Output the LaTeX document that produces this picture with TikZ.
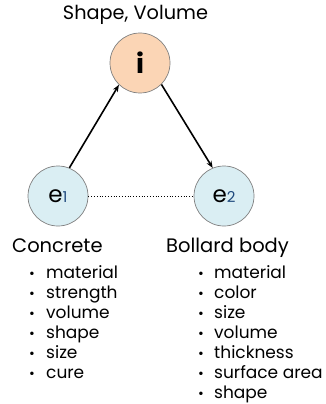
\documentclass[tikz,border=0pt]{standalone}
\usepackage{fontspec}
\setmainfont{Poppins}
\usetikzlibrary{arrows.meta}
\definecolor{peach}{HTML}{FBD5B5}
\definecolor{paleblue}{HTML}{DAEEF3}
\definecolor{rimgray}{HTML}{7F7F7F}
\definecolor{subblue}{HTML}{1F497D}
\tikzset{
  x=1pt, y=-1pt,
  entity/.style={circle, draw=rimgray, line width=0.7pt, minimum size=60pt, inner sep=0pt},
  link/.style={line width=1.6pt, -{Stealth[length=7pt,width=5.5pt]}},
  heading/.style={anchor=base west, inner sep=0pt, font=\fontsize{19.5}{22}\selectfont},
  item/.style={anchor=base west, inner sep=0pt, font=\fontsize{17}{20}\selectfont},
  dot/.style={anchor=base, inner sep=0pt, font=\fontsize{14}{20}\selectfont}
}
\newcommand{\entsub}[1]{{\fontsize{15}{15}\selectfont\color{subblue}#1}}
\begin{document}
\begin{tikzpicture}
\useasboundingbox (0,0) rectangle (325,404);

% the three entities
\node[entity, fill=peach, font=\fontsize{27}{27}\selectfont\bfseries] (i) at (140,63) {i};
\node[entity, fill=paleblue, font=\fontsize{23}{23}\selectfont] (e1) at (58,196) {e\entsub{1}};
\node[entity, fill=paleblue, font=\fontsize{23}{23}\selectfont] (e2) at (224,196) {e\entsub{2}};

% title over the upper entity
\node[anchor=base, inner sep=0pt, font=\fontsize{19.3}{22}\selectfont] (title) at (135.5,20) {Shape, Volume};

% relations
\draw[link] (e1.68) -- (i.226);
\draw[link] (i.315) -- (e2.112);
\draw[line width=0.8pt, dotted] (e1.east) -- (e2.west);

% attribute lists
\node[heading] (hc) at (12,252) {Concrete};
\node[heading] (hb) at (166,252) {Bollard body};

\foreach \t [count=\k] in {material,strength,volume,shape,size,cure} {
  \node[dot] (cb\k) at (32,258+20*\k) {\textbullet};
  \node[item] (ct\k) at (46,258+20*\k) {\t};
}
\foreach \t [count=\k] in {material,color,size,volume,thickness,surface area,shape} {
  \node[dot] (bb\k) at (201,258+20*\k) {\textbullet};
  \node[item] (bt\k) at (214,258+20*\k) {\t};
}
\end{tikzpicture}
\end{document}
